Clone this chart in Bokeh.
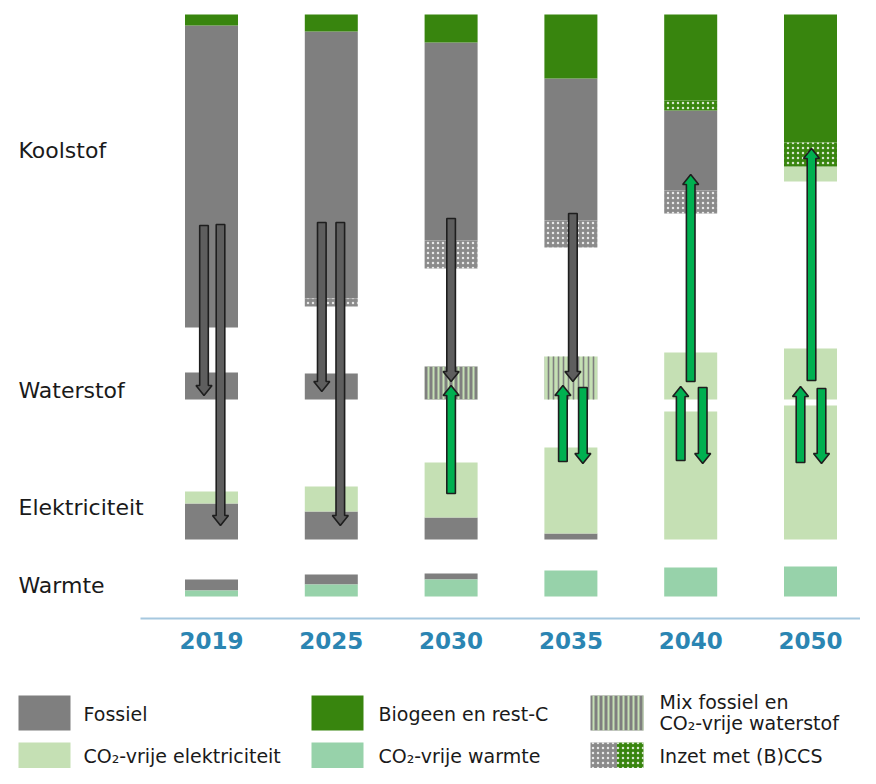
from bokeh.plotting import figure
from bokeh.models import Range1d, ColumnDataSource
from bokeh.core.properties import value
from bokeh.embed import file_html
from bokeh.resources import INLINE

# ---------------- data ----------------
years = ["2019", "2025", "2030", "2035", "2040", "2050"]
rows = ["Koolstof", "Waterstof", "Elektriciteit", "Warmte"]

# Koolstof (stacked from the top downward)
kool_bio = [11, 17, 28, 64, 86, 128]
kool_bio_ccs = [0, 0, 0, 0, 10, 24]
kool_fossil = [302, 267, 198, 142, 80, 0]
kool_fossil_ccs = [0, 8, 28, 27, 23, 0]
kool_free = [0, 0, 0, 0, 0, 15]

# Waterstof (stacked upward)
h2_fossil = [27, 26, 0, 0, 0, 0]
h2_mix_fossil = [0, 0, 33, 0, 0, 0]
h2_mix_free = [0, 0, 0, 43, 0, 0]
h2_free = [0, 0, 0, 0, 47, 51]

# Elektriciteit (stacked upward, fossil at the bottom)
elec_fossil = [36, 28, 22, 6, 0, 0]
elec_free = [12, 25, 55, 86, 128, 134]

# Warmte (stacked upward, CO2-free at the bottom)
heat_free = [6, 12, 17, 26, 29, 30]
heat_fossil = [11, 10, 6, 0, 0, 0]

legend_labels = ["Fossiel", "Biogeen en rest-C", "Mix fossiel en\nCO₂-vrije waterstof",
                 "CO₂-vrije elektriciteit", "CO₂-vrije warmte", "Inzet met (B)CCS"]

# flows (arrows): year index, x offset (px), start y, end y (px from top), kind
arrow_year = [0, 0, 1, 1, 2, 3, 2, 3, 3, 4, 4, 4, 5, 5, 5]
arrow_dx = [-7.5, 9, -9.5, 9, 0, 2, 0, -8, 12, 0, -10, 12, 1, -10, 11]
arrow_from = [225, 224, 222, 222, 218, 213, 493, 461, 387, 381, 460, 387, 380, 462, 388]
arrow_to = [395, 525, 391, 525, 381, 381, 385, 385, 463, 174, 386, 463, 148, 386, 463]
arrow_kind = ["fossil"] * 6 + ["free"] * 9

# ---------------- layout ----------------
W, H = 860, 768
PX = 119.8          # pixels per column
X0 = 211            # px of first column centre
BAR = 53            # bar width px
KOOL_TOP = 14
H2_BASE = 399
ELEC_BASE = 539
HEAT_BASE = 596
TXT = 8             # text baseline correction

FOSSIL = "#7F7F7F"
BIO = "#38850E"
FREE_E = "#C5E0B4"
FREE_H = "#97D2AA"
FONT = "DejaVu Sans"

p = figure(width=W, height=H, x_range=Range1d(-X0 / PX, (W - X0) / PX),
           y_range=Range1d(H, 0), x_axis_type=None, y_axis_type=None,
           output_backend="svg", toolbar_location=None, min_border=0,
           outline_line_color=None)
p.grid.visible = False
p.background_fill_color = "white"

def u(px):
    return px / PX

styles = {
    "fossil": dict(fill_color=FOSSIL),
    "bio": dict(fill_color=BIO),
    "free_e": dict(fill_color=FREE_E),
    "free_h": dict(fill_color=FREE_H),
    "mix_fossil": dict(fill_color=FOSSIL, hatch_pattern="vertical_line", hatch_color=FREE_E,
                       hatch_scale=5, hatch_weight=2),
    "mix_free": dict(fill_color=FREE_E, hatch_pattern="vertical_line", hatch_color=FOSSIL,
                     hatch_scale=5, hatch_weight=1.6),
    "fossil_ccs": dict(fill_color="#8A8A8A", hatch_pattern="dot", hatch_color="white",
                       hatch_scale=5, hatch_weight=2.5, hatch_alpha=0.8),
    "bio_ccs": dict(fill_color=BIO, hatch_pattern="dot", hatch_color="white",
                    hatch_scale=5, hatch_weight=2.5, hatch_alpha=0.8),
}
boxes = {k: dict(left=[], right=[], top=[], bottom=[]) for k in styles}

def add(kind, i, y0, y1):
    if y0 == y1:
        return
    boxes[kind]["left"].append(i - u(BAR) / 2)
    boxes[kind]["right"].append(i + u(BAR) / 2)
    boxes[kind]["top"].append(min(y0, y1))
    boxes[kind]["bottom"].append(max(y0, y1))

for i in range(len(years)):
    y = KOOL_TOP
    for kind, arr in [("bio", kool_bio), ("bio_ccs", kool_bio_ccs), ("fossil", kool_fossil),
                      ("fossil_ccs", kool_fossil_ccs), ("free_e", kool_free)]:
        add(kind, i, y, y + arr[i]); y += arr[i]
    y = H2_BASE
    for kind, arr in [("fossil", h2_fossil), ("mix_fossil", h2_mix_fossil),
                      ("mix_free", h2_mix_free), ("free_e", h2_free)]:
        add(kind, i, y, y - arr[i]); y -= arr[i]
    y = ELEC_BASE
    for kind, arr in [("fossil", elec_fossil), ("free_e", elec_free)]:
        add(kind, i, y, y - arr[i]); y -= arr[i]
    y = HEAT_BASE
    for kind, arr in [("free_h", heat_free), ("fossil", heat_fossil)]:
        add(kind, i, y, y - arr[i]); y -= arr[i]

# legend swatches (layout) -> appended to same renderers
LEG_COLS = [(18, 70), (311, 363), (590, 643)]
LEG_ROWS = [(695, 730), (742, 768)]
LEG_TEXT_X = [83, 378, 659]
LEG_TEXT_Y = [721, 763]
leg_kinds = [["fossil"], ["bio"], ["mix_fossil"], ["free_e"], ["free_h"], ["fossil_ccs", "bio_ccs"]]
for n, kinds in enumerate(leg_kinds):
    r, c = divmod(n, 3)
    x0, x1 = LEG_COLS[c]
    y0, y1 = LEG_ROWS[r]
    w = (x1 - x0) / len(kinds)
    for k, kind in enumerate(kinds):
        boxes[kind]["left"].append(u(x0 + k * w - X0))
        boxes[kind]["right"].append(u(x0 + (k + 1) * w - X0))
        boxes[kind]["top"].append(y0)
        boxes[kind]["bottom"].append(y1)

for kind, st in styles.items():
    if boxes[kind]["left"]:
        p.quad(source=ColumnDataSource(boxes[kind]), left="left", right="right",
               top="top", bottom="bottom", line_color=None, **st)

# arrows
arrows = {"fossil": dict(xs=[], ys=[]), "free": dict(xs=[], ys=[])}
SHAFT, HEAD, HEADLEN = 4.3, 8, 10
for yi, dx, y0, y1, kind in zip(arrow_year, arrow_dx, arrow_from, arrow_to, arrow_kind):
    cx = yi + u(dx)
    s = 1 if y1 > y0 else -1
    yh = y1 - s * HEADLEN
    xs = [cx - u(SHAFT), cx + u(SHAFT), cx + u(SHAFT), cx + u(HEAD), cx, cx - u(HEAD), cx - u(SHAFT)]
    ys = [y0, y0, yh, yh, y1, yh, yh]
    arrows[kind]["xs"].append(xs)
    arrows[kind]["ys"].append(ys)
p.patches(source=ColumnDataSource(arrows["fossil"]), xs="xs", ys="ys",
          fill_color="#5E5E5E", line_color="#1E1E1E", line_width=1.6)
p.patches(source=ColumnDataSource(arrows["free"]), xs="xs", ys="ys",
          fill_color="#00B050", line_color="#1E1E1E", line_width=1.6)

# row labels
p.text(x=[u(18 - X0)] * 4, y=[158 - TXT, 398 - TXT, 515 - TXT, 593 - TXT], text=rows,
       text_font=value(FONT), text_font_size="22px", text_color="#1A1A1A",
       text_baseline="alphabetic", text_align="left")

# year axis
p.segment(x0=[u(140 - X0)], x1=[u(W - X0)], y0=[618], y1=[618],
          line_color="#A6C8DF", line_width=2)
p.text(x=list(range(len(years))), y=[648 - TXT] * len(years), text=years,
       text_font=value(FONT), text_font_size="23px", text_font_style="bold",
       text_color="#2B85B2", text_align="center", text_baseline="alphabetic")

# legend text
for n, lab in enumerate(legend_labels):
    r, c = divmod(n, 3)
    lines = lab.split("\n")
    base = LEG_TEXT_Y[r] - TXT
    if len(lines) == 1:
        p.text(x=[u(LEG_TEXT_X[c] - X0)], y=[base], text=[lab],
               text_font=value(FONT), text_font_size="19px", text_color="#1A1A1A",
               text_align="left", text_baseline="alphabetic")
    else:
        p.text(x=[u(LEG_TEXT_X[c] - X0)] * 2, y=[base - 12, base + 9],
               text=lines, text_font=value(FONT), text_font_size="19px",
               text_color="#1A1A1A", text_align="left", text_baseline="alphabetic")

open("out.html", "w").write(file_html(p, INLINE))
